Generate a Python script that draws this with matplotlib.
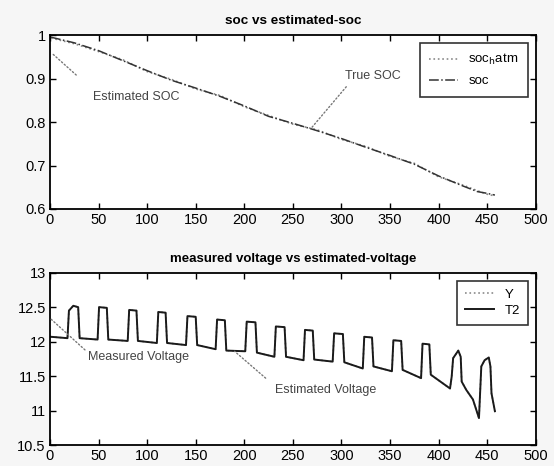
import matplotlib
matplotlib.use("Agg")
import matplotlib.pyplot as plt
from matplotlib.ticker import FormatStrFormatter, MultipleLocator

plt.rcParams['font.family'] = ['Liberation Sans', 'DejaVu Sans']

# ---- top panel: SOC ----
soc_x = [1, 25, 50, 75, 100, 125, 150, 175, 200, 225, 250, 275, 300,
         325, 350, 375, 400, 425, 440, 450, 458]
soc_true = [0.995, 0.982, 0.964, 0.941, 0.918, 0.896, 0.878, 0.859, 0.837,
            0.813, 0.797, 0.780, 0.762, 0.742, 0.723, 0.703, 0.676, 0.653,
            0.640, 0.636, 0.632]
soc_est = [0.993, 0.980, 0.962, 0.943, 0.916, 0.898, 0.876, 0.861, 0.835,
           0.815, 0.795, 0.782, 0.760, 0.744, 0.721, 0.705, 0.674, 0.655,
           0.642, 0.634, 0.630]

# ---- bottom panel: voltage ----
v_x = [1, 18, 19.5, 24, 29, 30.5, 49, 50.5, 58.5, 60, 80, 81.5, 89, 90.5,
       110, 111.5, 119, 120.5, 140, 141.5, 150, 151.5, 170.5, 172, 180, 181.5,
       201, 202.5, 211.5, 213, 231, 232.5, 241.5, 243, 261, 262.5, 270.5, 272,
       291, 292.5, 301.5, 303, 322, 323.5, 331.5, 333, 352, 353.5, 361.5, 363,
       382, 383.5, 390.5, 392, 411.8, 413.5, 415, 420.3, 422.8, 423.8, 428.5,
       435.4, 441.6, 444, 447.4, 451.7, 453.4, 454.5, 458]
v_meas = [12.07, 12.05, 12.45, 12.52, 12.50, 12.05, 12.03, 12.50, 12.49, 12.03,
          12.01, 12.46, 12.45, 12.01, 11.98, 12.43, 12.42, 11.98, 11.95, 12.37,
          12.36, 11.95, 11.89, 12.32, 12.31, 11.87, 11.86, 12.29, 12.28, 11.84,
          11.78, 12.22, 12.21, 11.78, 11.73, 12.17, 12.16, 11.74, 11.71, 12.12,
          12.11, 11.70, 11.61, 12.07, 12.06, 11.64, 11.57, 12.02, 12.01, 11.59,
          11.47, 11.97, 11.96, 11.52, 11.32, 11.49, 11.76, 11.87, 11.78, 11.42,
          11.30, 11.16, 10.89, 11.64, 11.73, 11.77, 11.64, 11.25, 10.99]
v_est = v_meas

xticks = [0, 50, 100, 150, 200, 250, 300, 350, 400, 450, 500]

W, H = 554, 466
fig = plt.figure(figsize=(W / 100, H / 100), dpi=100)
fig.patch.set_facecolor('#f6f6f6')

ax1 = fig.add_axes([50 / W, 1 - 209 / H, 485.7 / W, 174 / H])
ax2 = fig.add_axes([50 / W, 1 - 445 / H, 485.7 / W, 172.3 / H])

for ax in (ax1, ax2):
    ax.set_facecolor('white')
    ax.set_xlim(0, 500)
    ax.set_xticks(xticks)
    ax.tick_params(direction='in', top=True, right=True, length=4,
                   width=1, labelsize=10.5, pad=3, colors='black')
    for s in ax.spines.values():
        s.set_linewidth(1.3)
    ax.yaxis.set_major_formatter(FormatStrFormatter('%g'))

ptr = dict(arrowstyle='-', linestyle=':', color='#777777', lw=1.0,
           shrinkA=0, shrinkB=0)
note = dict(fontsize=9, color='#444444', va='center', ha='left')

# top
ax1.plot(soc_x, soc_est, linestyle=':', color='#8a8a8a', lw=1.2,
         label=r'soc$_{\mathrm{h}}$atm')
ax1.plot(soc_x, soc_true, linestyle='-.', color='#333333', lw=1.1,
         label='soc')
ax1.set_ylim(0.6, 1.0)
ax1.yaxis.set_major_locator(MultipleLocator(0.1))
ax1.set_title('soc vs estimated-soc', fontsize=9.7, fontweight='bold', pad=8)
leg1 = ax1.legend(loc='upper right', fontsize=9.5, frameon=True, fancybox=False,
                  edgecolor='black', handlelength=2.2, borderpad=0.7,
                  labelspacing=0.6, borderaxespad=0.6)
leg1.get_frame().set_linewidth(1.2)

ax1.annotate('', xy=(2, 0.958), xytext=(27, 0.908), arrowprops=ptr)
ax1.text(44, 0.857, 'Estimated SOC', **note)
ax1.annotate('', xy=(269, 0.786), xytext=(305, 0.881), arrowprops=ptr)
ax1.text(304, 0.905, 'True SOC', **note)

# bottom
ax2.plot(v_x, v_est, linestyle=':', color='#8a8a8a', lw=1.2, label='Y')
ax2.plot(v_x, v_meas, linestyle='-', color='#1a1a1a', lw=1.4, label='T2')
ax2.set_ylim(10.5, 13)
ax2.yaxis.set_major_locator(MultipleLocator(0.5))
ax2.set_title('measured voltage vs estimated-voltage', fontsize=9.5,
              fontweight='bold', pad=8)
leg2 = ax2.legend(loc='upper right', fontsize=9.5, frameon=True, fancybox=False,
                  edgecolor='black', handlelength=2.2, borderpad=0.6,
                  labelspacing=0.3, borderaxespad=0.6)
leg2.get_frame().set_linewidth(1.2)

ax2.annotate('', xy=(0, 12.34), xytext=(36, 11.88), arrowprops=ptr)
ax2.text(39, 11.78, 'Measured Voltage', **note)
ax2.annotate('', xy=(190, 11.86), xytext=(222, 11.47), arrowprops=ptr)
ax2.text(232, 11.30, 'Estimated Voltage', **note)

fig.savefig('out.png', dpi=100, facecolor=fig.get_facecolor())
